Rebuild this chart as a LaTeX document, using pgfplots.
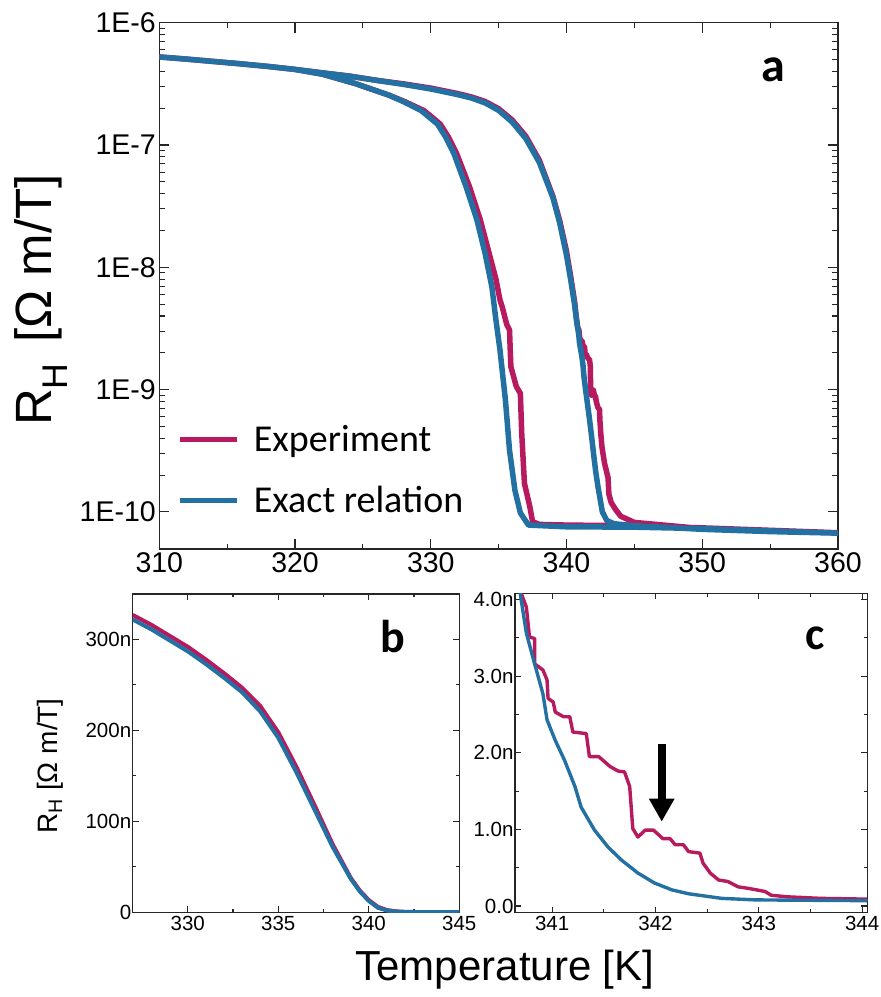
\documentclass[border=0pt]{standalone}
\usepackage{fontspec}
\setmainfont{Liberation Sans}
\newfontfamily\legfont{Carlito}
\usepackage{pgfplots}
\pgfplotsset{compat=1.18}
\usetikzlibrary{arrows.meta}

\definecolor{expred}{RGB}{183,26,94}
\definecolor{exblue}{RGB}{35,112,163}

\pgfplotsset{
  panel/.style={
    scale only axis,
    anchor=south west,
    axis line style={line width=1.2pt, black!85},
    every tick/.style={black!85, line width=1.1pt},
    /pgf/number format/assume math mode=true,
  },
}

\begin{document}
\begin{tikzpicture}
\useasboundingbox (0pt,0pt) rectangle (881pt,997pt);

% ---------- panel a ----------
\begin{axis}[panel,
  at={(159.3pt,448pt)}, width=678.7pt, height=526.3pt,
  xmin=310, xmax=360, ymode=log, ymin=4.97e-11, ymax=1e-6,
  xtick={310,320,...,360}, minor x tick num=1,
  ytick={1e-10,1e-9,1e-8,1e-7,1e-6},
  yticklabels={1E-10,1E-9,1E-8,1E-7,1E-6},
  major tick length=10pt, minor tick length=5.5pt,
  tick label style={font=\fontsize{28.5}{30}\selectfont},
  ylabel={R\textsubscript{H}\hspace{0.12em} [Ω m/T]},
  ylabel style={font=\fontsize{51}{54}\selectfont, at={(axis description cs:-0.1736,0.473)}, anchor=center},
  legend style={at={(0.022,0.058)}, anchor=south west, draw=none, fill=none,
    font=\legfont\fontsize{38}{44}\selectfont, row sep=29pt,
    /tikz/every odd column/.append style={column sep=12pt}},
  legend cell align=left,
  legend image code/.code={\draw[#1, line width=5.5pt] (0pt,0pt) -- (57pt,0pt);},
]
\addplot[expred, line width=5.5pt, line join=round] coordinates {
(310,5.25e-7) (312,5.04e-7) (314,4.82e-7) (316,4.61e-7) (318,4.39e-7) (320,4.15e-7)
(322,3.89e-7) (324,3.66e-7) (326,3.38e-7) (328,3.16e-7) (330,2.92e-7) (332,2.63e-7)
(333,2.47e-7) (334,2.27e-7) (335,1.98e-7) (336,1.60e-7) (337,1.18e-7) (338,7.5e-8)
(339,3.8e-8) (339.5,2.4e-8) (340,1.35e-8) (340.3,8.5e-9) (340.6,5.2e-9) (340.7,4.08e-9)
(340.78,3.51e-9) (340.83,3.2e-9) (340.91,3.08e-9) (340.96,2.71e-9) (341.03,2.53e-9)
(341.17,2.47e-9) (341.2,2.27e-9) (341.33,2.25e-9) (341.36,1.95e-9) (341.45,1.95e-9)
(341.56,1.82e-9) (341.7,1.75e-9) (341.75,1.56e-9) (341.78,1.01e-9) (341.83,9.0e-10)
(341.9,9.9e-10) (341.98,9.9e-10) (342.07,8.8e-10) (342.14,8.8e-10) (342.19,8.0e-10)
(342.32,7.1e-10) (342.43,6.9e-10) (342.46,5.6e-10) (342.53,4.3e-10) (342.61,3.4e-10)
(342.8,2.5e-10) (343.06,1.9e-10) (343.12,1.4e-10) (343.28,1.2e-10) (343.6,1.05e-10)
(344,9.2e-11) (345,8.2e-11) (350,7.3e-11) (355,7.0e-11) (360,6.75e-11)
(350,7.4e-11) (345,7.7e-11) (340,7.8e-11) (338,7.9e-11) (337.5,8.3e-11) (337.3,1.1e-10)
(336.9,1.71e-10) (336.7,4.4e-10) (336.6,9.3e-10) (336.3,1.06e-9) (335.9,1.54e-9)
(335.8,3.07e-9) (335.6,3.4e-9) (335.25,4.8e-9) (335.1,5.4e-9) (334.8,8.0e-9)
(334.3,1.3e-8) (333.65,2.44e-8) (332.85,4.56e-8) (331.9,8.55e-8) (331.3,1.16e-7)
(330.7,1.48e-7) (330.06,1.70e-7) (329.5,1.91e-7) (328.1,2.26e-7) (326.9,2.56e-7)
(324.4,3.19e-7) (322,3.80e-7) (320,4.15e-7)
};
\addlegendentry{Experiment}
\addplot[exblue, line width=5.5pt, line join=round] coordinates {
(310,5.25e-7) (312,5.04e-7) (314,4.82e-7) (316,4.61e-7) (318,4.39e-7) (320,4.15e-7)
(322,3.89e-7) (324,3.66e-7) (326,3.38e-7) (328,3.13e-7) (330,2.87e-7) (332,2.58e-7)
(333,2.42e-7) (334,2.21e-7) (335,1.92e-7) (336,1.54e-7) (337,1.13e-7) (338,7.2e-8)
(339,3.7e-8) (339.5,2.3e-8) (340,1.25e-8) (340.3,8.0e-9) (340.6,4.9e-9) (340.69,4.08e-9)
(340.75,3.56e-9) (340.83,3.16e-9) (340.91,2.77e-9) (340.95,2.43e-9) (341.03,2.16e-9)
(341.12,1.9e-9) (341.22,1.56e-9) (341.28,1.29e-9) (341.41,9.9e-10) (341.54,7.7e-10)
(341.67,6.0e-10) (341.83,4.3e-10) (341.99,3.0e-10) (342.16,2.1e-10) (342.32,1.6e-10)
(342.64,1.0e-10) (342.97,8.5e-11) (343.5,8.0e-11) (345,7.7e-11) (350,7.2e-11)
(355,6.9e-11) (360,6.7e-11)
(350,7.3e-11) (345,7.5e-11) (340,7.55e-11) (337.2,7.8e-11) (336.6,9.8e-11)
(336.2,1.5e-10) (335.8,3.2e-10) (335.5,8.2e-10) (335.1,2.1e-9) (334.8,3.71e-9)
(334.5,6.93e-9) (334,1.3e-8) (333.4,2.44e-8) (332.6,4.56e-8) (331.7,8.55e-8)
(331.1,1.16e-7) (330.5,1.48e-7) (329.3,1.91e-7) (328,2.26e-7) (326.9,2.56e-7)
(324.4,3.19e-7) (322,3.80e-7) (320,4.15e-7)
};
\addlegendentry{Exact relation}
\end{axis}
\node[font=\legfont\bfseries\fontsize{48}{50}\selectfont] at (773pt,927pt) {a};

% ---------- panel b ----------
\begin{axis}[panel,
  at={(132.7pt,84.7pt)}, width=326.6pt, height=318.3pt,
  xmin=326.96, xmax=345, ymin=0, ymax=350,
  xtick={330,335,340,345}, minor x tick num=1,
  ytick={0,100,200,300}, yticklabels={0,100n,200n,300n}, minor y tick num=1,
  major tick length=6pt, minor tick length=3.5pt,
  tick label style={font=\fontsize{20.5}{22}\selectfont},
  yticklabel style={xshift=2pt},
  ylabel={R\textsubscript{H} [Ω m/T]},
  ylabel style={font=\fontsize{28}{30}\selectfont, at={(axis description cs:-0.253,0.46)}, anchor=center},
]
\addplot[expred, line width=4pt, line join=round] coordinates {
(326.96,327) (328,316) (329,304) (330,292) (331,278) (332,263) (333,247) (334,227)
(335,198) (336,160) (337,118) (338,75) (339,38) (339.5,24) (340,13.5) (340.5,6)
(341,2.5) (341.5,1) (342,0.5) (343,0.1) (345,0.08)
};
\addplot[exblue, line width=4pt, line join=round] coordinates {
(326.96,322) (328,311) (329,299) (330,287) (331,273) (332,258) (333,242) (334,221)
(335,192) (336,154) (337,113) (338,72) (339,37) (339.5,23) (340,12.5) (340.5,5)
(341,2) (341.5,0.8) (342,0.3) (343,0.1) (345,0.08)
};
\end{axis}
\node[font=\legfont\bfseries\fontsize{46}{48}\selectfont] at (393pt,360pt) {b};

% ---------- panel c ----------
\begin{axis}[panel,
  at={(515pt,84.3pt)}, width=352.3pt, height=319.4pt,
  xmin=340.64, xmax=344.05, ymin=-0.087, ymax=4.08,
  xtick={341,342,343,344}, minor x tick num=1,
  ytick={0,1,2,3,4}, yticklabels={0.0,1.0n,2.0n,3.0n,4.0n}, minor y tick num=1,
  major tick length=6pt, minor tick length=3.5pt,
  tick label style={font=\fontsize{20.5}{22}\selectfont},
  yticklabel style={xshift=2pt},
]
\addplot[expred, line width=3.4pt, line join=round] coordinates {
(340.6,4.9) (340.7,4.08) (340.75,3.9) (340.78,3.51) (340.83,3.49) (340.83,3.16)
(340.91,3.08) (340.95,2.95) (340.96,2.71) (341.01,2.66) (341.03,2.53) (341.11,2.47)
(341.17,2.47) (341.2,2.27) (341.33,2.25) (341.36,1.95) (341.45,1.95) (341.56,1.82)
(341.64,1.76) (341.7,1.75) (341.75,1.56) (341.78,1.01) (341.83,0.9) (341.9,0.99)
(341.98,0.99) (342.03,0.93) (342.07,0.88) (342.14,0.88) (342.19,0.8) (342.27,0.8)
(342.32,0.71) (342.43,0.69) (342.46,0.56) (342.53,0.43) (342.61,0.34) (342.7,0.32)
(342.8,0.25) (342.9,0.23) (343.06,0.19) (343.12,0.14) (343.28,0.12) (343.6,0.1)
(344.05,0.09)
};
\addplot[exblue, line width=3.4pt, line join=round] coordinates {
(340.6,4.7) (340.69,4.08) (340.75,3.56) (340.83,3.16) (340.91,2.77) (340.95,2.43)
(341.03,2.16) (341.12,1.9) (341.22,1.56) (341.28,1.29) (341.41,0.99) (341.54,0.77)
(341.67,0.6) (341.83,0.43) (341.99,0.3) (342.16,0.21) (342.32,0.16) (342.64,0.1)
(342.97,0.08) (343.5,0.075) (344.05,0.07)
};
\draw[-{Triangle[width=24pt,length=23pt]}, line width=8pt, black]
  (axis cs:342.06,2.12) -- (axis cs:342.06,1.10);
\end{axis}
\node[font=\legfont\bfseries\fontsize{46}{48}\selectfont] at (815pt,359pt) {c};

\node[font=\fontsize{42}{44}\selectfont] at (505pt,27pt) {Temperature [K]};
\end{tikzpicture}
\end{document}
